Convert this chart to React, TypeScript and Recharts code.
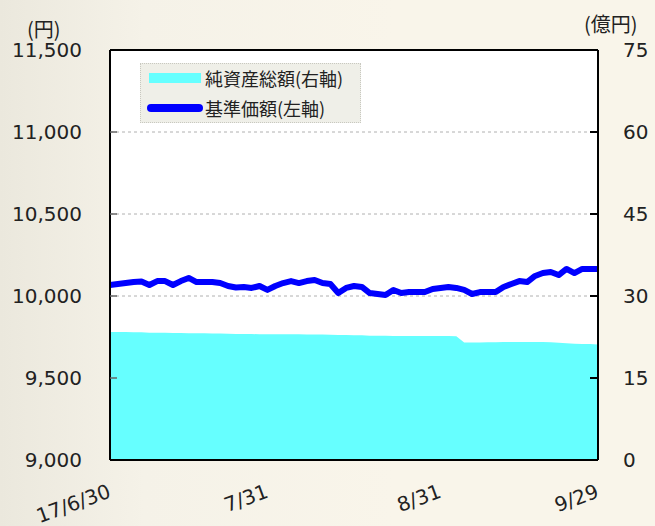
import React from 'react';
import {
  ComposedChart,
  Area,
  Line,
  XAxis,
  YAxis,
  CartesianGrid,
  ReferenceLine,
} from 'recharts';

const dates: string[] = [
  '6/30',
  '7/3', '7/4', '7/5', '7/6', '7/7',
  '7/10', '7/11', '7/12', '7/13', '7/14',
  '7/18', '7/19', '7/20', '7/21',
  '7/24', '7/25', '7/26', '7/27', '7/28',
  '7/31',
  '8/1', '8/2', '8/3', '8/4',
  '8/7', '8/8', '8/9', '8/10',
  '8/14', '8/15', '8/16', '8/17', '8/18',
  '8/21', '8/22', '8/23', '8/24', '8/25',
  '8/28', '8/29', '8/30', '8/31',
  '9/1',
  '9/4', '9/5', '9/6', '9/7', '9/8',
  '9/11', '9/12', '9/13', '9/14', '9/15',
  '9/19', '9/20', '9/21', '9/22',
  '9/25', '9/26', '9/27', '9/28', '9/29',
];

// 基準価額 (円, 左軸)
const navValues: number[] = [
  10067, 10073, 10079, 10085, 10088, 10067, 10091, 10091, 10067, 10091,
  10110, 10085, 10085, 10085, 10079, 10061, 10052, 10055, 10049, 10061,
  10037, 10061, 10079, 10091, 10079, 10091, 10098, 10079, 10073, 10018,
  10049, 10061, 10055, 10018, 10012, 10006, 10037, 10018, 10024, 10024,
  10024, 10043, 10049, 10055, 10049, 10037, 10012, 10024, 10024, 10024,
  10055, 10073, 10091, 10085, 10122, 10140, 10146, 10128, 10165, 10140,
  10165, 10165, 10165,
];

// 純資産総額 (億円, 右軸)
const totalAssets: number[] = [
  23.4, 23.4, 23.4, 23.35, 23.35, 23.3, 23.3, 23.3, 23.25, 23.25,
  23.2, 23.2, 23.2, 23.15, 23.15, 23.1, 23.05, 23.05, 23.05, 23.0,
  23.0, 23.0, 23.0, 23.0, 23.0, 22.95, 22.95, 22.95, 22.9, 22.85,
  22.85, 22.8, 22.8, 22.75, 22.75, 22.75, 22.7, 22.7, 22.7, 22.7,
  22.7, 22.7, 22.7, 22.7, 22.65, 21.5, 21.5, 21.5, 21.55, 21.55,
  21.6, 21.6, 21.6, 21.6, 21.6, 21.6, 21.55, 21.45, 21.35, 21.25,
  21.2, 21.2, 21.15,
];

const xTicks: string[] = ['6/30', '7/31', '8/31', '9/29'];
const xTickLabels: string[] = ['17/6/30', '7/31', '8/31', '9/29'];
const leftTicks: number[] = [9000, 9500, 10000, 10500, 11000, 11500];
const rightTicks: number[] = [0, 15, 30, 45, 60, 75];

const seriesNames = { assets: '純資産総額(右軸)', nav: '基準価額(左軸)' };

const data = dates.map((d, i) => ({
  date: d,
  nav: navValues[i],
  assets: totalAssets[i],
}));

const FONT = '"DejaVu Sans", Verdana, sans-serif';
const JFONT = '"Noto Sans CJK JP", "DejaVu Sans", sans-serif';
const TEXT = '#222222';

const LeftTick = (props: any) => {
  const { x, y, payload } = props;
  const axisX = x + 28;
  const v = payload.value as number;
  return (
    <g>
      {v !== 9000 && v !== 11500 && (
        <line x1={axisX} x2={axisX + 7} y1={y} y2={y} stroke="#666" strokeWidth={1.5} />
      )}
      <text x={x} y={y} dy="0.355em" textAnchor="end" fontSize={20} fontFamily={FONT} fill={TEXT}>
        {v.toLocaleString('en-US')}
      </text>
    </g>
  );
};

const RightTick = (props: any) => {
  const { x, y, payload } = props;
  const axisX = x - 25;
  return (
    <g>
      <line x1={axisX - 8} x2={axisX} y1={y} y2={y} stroke="#000" strokeWidth={2} />
      <text x={x} y={y} dy="0.355em" textAnchor="start" fontSize={20} fontFamily={FONT} fill={TEXT}>
        {payload.value}
      </text>
    </g>
  );
};

const BottomTick = (props: any) => {
  const { x, y, payload } = props;
  const idx = xTicks.indexOf(payload.value);
  const label = idx >= 0 ? xTickLabels[idx] : payload.value;
  const ax = x + 2;
  const ay = y + 37;
  return (
    <text
      x={ax}
      y={ay}
      textAnchor="end"
      fontSize={20}
      fontFamily={FONT}
      fill={TEXT}
      transform={`rotate(-20, ${ax}, ${ay})`}
    >
      {label}
    </text>
  );
};

export default function App() {
  return (
    <div
      style={{
        position: 'absolute',
        left: 0,
        top: 0,
        width: 655,
        height: 526,
        background:
          'linear-gradient(to right, #ebe8dd 0%, #f5f2e8 22%, #f9f5ea 60%, #f9f5ea 100%)',
        overflow: 'hidden',
      }}
    >
      <ComposedChart
        width={655}
        height={526}
        data={data}
        margin={{ top: 50, right: 0, bottom: 0, left: 0 }}
      >
        <CartesianGrid
          yAxisId="left"
          vertical={false}
          stroke="#b0b0b0"
          strokeDasharray="3 3"
          fill="#ffffff"
          fillOpacity={1}
        />
        <XAxis
          dataKey="date"
          ticks={xTicks}
          interval={0}
          height={66}
          tickSize={0}
          tickMargin={0}
          tickLine={false}
          axisLine={{ stroke: '#000', strokeWidth: 2 }}
          tick={<BottomTick />}
        />
        <YAxis
          yAxisId="left"
          orientation="left"
          width={110}
          domain={[9000, 11500]}
          ticks={leftTicks}
          interval={0}
          tickSize={0}
          tickMargin={28}
          tickLine={false}
          axisLine={{ stroke: '#000', strokeWidth: 2 }}
          tick={<LeftTick />}
        />
        <YAxis
          yAxisId="right"
          orientation="right"
          width={57}
          domain={[0, 75]}
          ticks={rightTicks}
          interval={0}
          tickSize={0}
          tickMargin={25}
          tickLine={false}
          axisLine={{ stroke: '#000', strokeWidth: 2 }}
          tick={<RightTick />}
        />
        <ReferenceLine yAxisId="left" y={11500} stroke="#000" strokeWidth={2} />
        <Area
          yAxisId="right"
          type="linear"
          dataKey="assets"
          name={seriesNames.assets}
          fill="#66ffff"
          fillOpacity={1}
          stroke="none"
          isAnimationActive={false}
        />
        <Line
          yAxisId="left"
          type="linear"
          dataKey="nav"
          name={seriesNames.nav}
          stroke="#0000ff"
          strokeWidth={6}
          strokeLinejoin="round"
          dot={false}
          activeDot={false}
          isAnimationActive={false}
        />
      </ComposedChart>

      <div
        style={{
          position: 'absolute',
          left: 27,
          top: 18,
          fontFamily: JFONT,
          fontSize: 20,
          color: TEXT,
          lineHeight: '21px',
        }}
      >
        (円)
      </div>
      <div
        style={{
          position: 'absolute',
          left: 584,
          top: 13,
          fontFamily: JFONT,
          fontSize: 20,
          color: TEXT,
          lineHeight: '21px',
        }}
      >
        (億円)
      </div>

      <div
        style={{
          position: 'absolute',
          left: 140,
          top: 63,
          width: 221,
          height: 60,
          boxSizing: 'border-box',
          background: '#efefe8',
          border: '1px dotted #c8c8c0',
          fontFamily: JFONT,
          fontSize: 18,
          color: TEXT,
        }}
      >
        <div style={{ position: 'absolute', left: 8, top: 9, width: 52, height: 10, background: '#66ffff' }} />
        <div
          style={{ position: 'absolute', left: 64, top: 1, lineHeight: '26px', whiteSpace: 'nowrap' }}
        >
          {seriesNames.assets}
        </div>
        <div
          style={{
            position: 'absolute',
            left: 6,
            top: 40,
            width: 56,
            height: 8,
            borderRadius: 4,
            background: '#0000ff',
          }}
        />
        <div
          style={{ position: 'absolute', left: 64, top: 31, lineHeight: '26px', whiteSpace: 'nowrap' }}
        >
          {seriesNames.nav}
        </div>
      </div>
    </div>
  );
}
